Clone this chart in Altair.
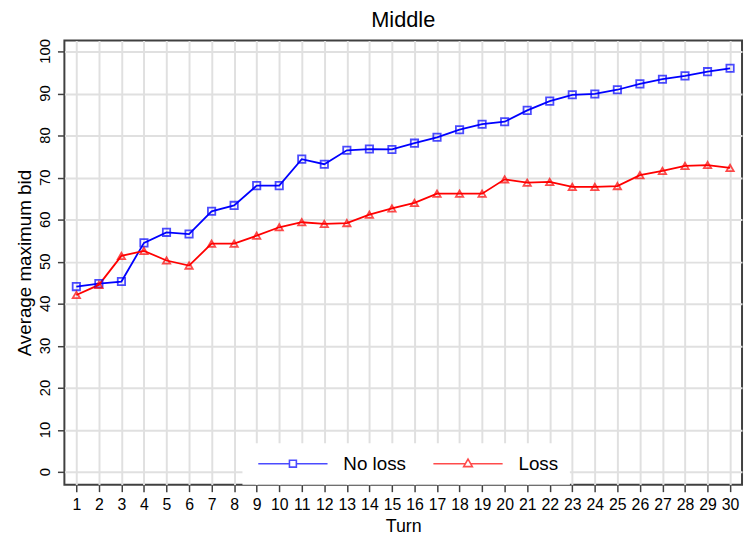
import altair as alt
import pandas as pd

turns = list(range(1, 31))
no_loss = [44.1, 44.8, 45.3, 54.5, 57.0, 56.6, 62.0, 63.4, 68.1, 68.1,
           74.4, 73.2, 76.5, 76.8, 76.7, 78.2, 79.6, 81.4, 82.7, 83.3,
           86.0, 88.2, 89.7, 89.9, 90.9, 92.3, 93.4, 94.2, 95.2, 96.0]
loss = [42.1, 44.5, 51.4, 52.6, 50.3, 49.1, 54.3, 54.3, 56.2, 58.2,
        59.4, 59.0, 59.2, 61.2, 62.7, 64.0, 66.2, 66.2, 66.2, 69.6,
        68.8, 69.0, 67.8, 67.8, 68.0, 70.6, 71.6, 72.8, 73.0, 72.3]
series_names = ["No loss", "Loss"]
series_colors = ["#0000ff", "#ff0000"]
marker_shapes = ["square", "triangle-up"]
legend_shapes = [
    "M-10,0H-1M1,0H10M-1,-1H1V1H-1Z",
    "M-10,0H-0.8M0.8,0H10M-1.25,0.85L0,-1.3L1.25,0.85Z",
]
y_ticks = list(range(0, 101, 10))

df = pd.DataFrame({
    "Turn": turns * 2,
    "Bid": no_loss + loss,
    "Series": [series_names[0]] * len(turns) + [series_names[1]] * len(turns),
})
tick_df = pd.DataFrame({"Bid": y_ticks, "Label": [str(v) for v in y_ticks]})

FONT = "Liberation Sans"

x_scale = alt.Scale(domain=[0.47, 30.53], nice=False, zero=False)
y_scale = alt.Scale(domain=[-3, 102.6], nice=False, zero=False)

x = alt.X("Turn:Q", scale=x_scale,
          axis=alt.Axis(values=turns, title="Turn", grid=True, domain=False,
                        labelFontSize=16, titleFontSize=18, labelPadding=5,
                        titlePadding=5, tickSize=7, labelFlush=False,
                        labelOverlap=False, titleFontWeight="normal",
                        labelFont=FONT, titleFont=FONT))
y = alt.Y("Bid:Q", scale=y_scale,
          axis=alt.Axis(values=y_ticks, title="Average maximum bid", grid=True,
                        domain=False, labels=False, titleFontSize=19,
                        titlePadding=22, tickSize=7, titleFontWeight="normal",
                        titleFont=FONT))

base = alt.Chart(df).encode(x=x, y=y)

lines = base.mark_line(strokeWidth=1.8).encode(
    color=alt.Color("Series:N", scale=alt.Scale(domain=series_names, range=series_colors), legend=None)
)
points = base.mark_point(filled=False, size=55, strokeWidth=1.8).encode(
    color=alt.Color("Series:N", scale=alt.Scale(domain=series_names, range=series_colors), legend=None),
    shape=alt.Shape("Series:N", scale=alt.Scale(domain=series_names, range=marker_shapes), legend=None),
)

leg = alt.Legend(orient="none", legendX=180, legendY=407, direction="horizontal",
                 fillColor="white", padding=11, title=None, labelFont=FONT,
                 labelFontSize=19, labelColor="black", symbolOffset=30.5,
                 labelOffset=41.5, columnPadding=22, symbolStrokeWidth=1.6,
                 symbolSize=49)
legend_layer = base.transform_filter("false").mark_point(filled=False, size=49, strokeWidth=1.6).encode(
    color=alt.Color("Series:N", scale=alt.Scale(domain=series_names, range=series_colors), legend=leg),
    shape=alt.Shape("Series:N", scale=alt.Scale(domain=series_names, range=legend_shapes), legend=leg),
)

# rotated y tick labels (reading bottom-to-top), positioned by the shared y scale
y_labels = alt.Chart(tick_df).mark_text(
    angle=270, align="center", baseline="alphabetic", font=FONT,
    fontSize=15, color="black"
).encode(
    y=y,
    x=alt.value(-15),
    text="Label:N",
)

chart = alt.layer(lines, points, legend_layer, y_labels).resolve_scale(
    color="independent", shape="independent"
).properties(
    width=685, height=449,
    autosize="none",
    background="white",
    padding={"left": 57, "top": 30, "right": 3, "bottom": 52},
    title=alt.TitleParams("Middle", font=FONT, fontSize=22,
                          fontWeight="normal", anchor="middle", offset=7, color="black"),
).configure_view(
    stroke="#404040", strokeWidth=2
).configure_axis(
    labelColor="black", titleColor="black",
    gridColor="#e0e0e0", gridWidth=2,
    tickColor="#404040", tickWidth=1.5
)

chart.save("out.html", embed_options={"renderer": "svg", "actions": False})
